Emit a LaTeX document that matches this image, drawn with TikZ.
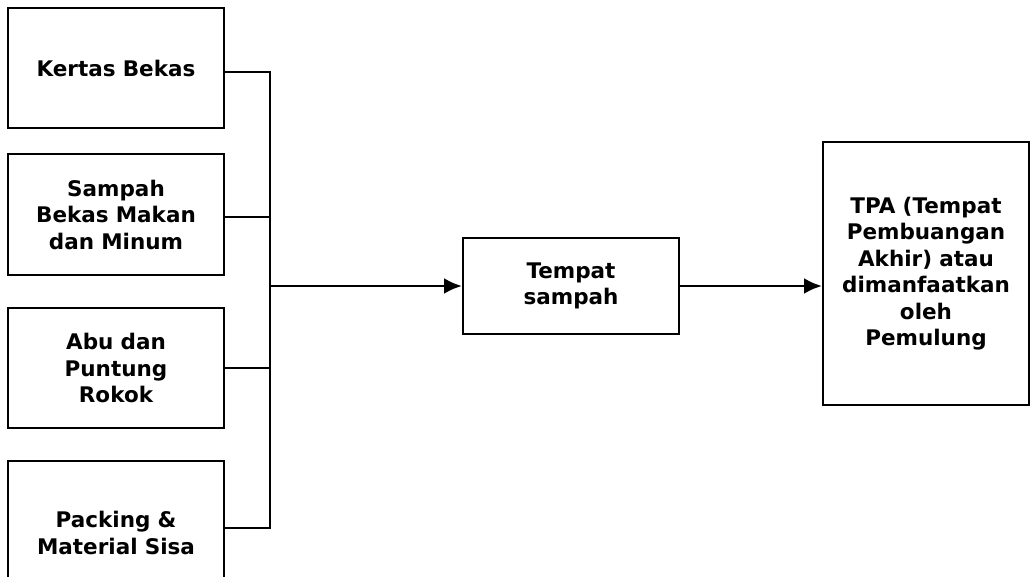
\documentclass[tikz,border=0pt]{standalone}
\usepackage{fontspec}
\setmainfont{DejaVu Sans}
\usetikzlibrary{arrows.meta}

\begin{document}
\begin{tikzpicture}[x=1pt, y=-1pt, block/.style={rectangle, draw, line width=2pt, text width=200pt, align=center, inner sep=0pt, font=\bfseries\fontsize{21.5}{26.5}\selectfont}, link/.style={line width=1.8pt}, flow/.style={line width=2.8pt, -{Latex[length=18pt, width=16pt]}}]
   \useasboundingbox (0,0) rectangle (1030,577);
   \node[block, minimum width=216pt, minimum height=120pt] (kertas) at (116,68) {Kertas Bekas};
   \node[block, minimum width=216pt, minimum height=121pt] (makan) at (116,214.5) {Sampah\\Bekas Makan\\dan Minum};
   \node[block, minimum width=216pt, minimum height=120pt] (rokok) at (116,368) {Abu dan\\Puntung\\Rokok};
   \node[block, minimum width=216pt, minimum height=144pt] (packing) at (116,533) {Packing \&\\Material Sisa};
   \node[block, minimum width=216pt, minimum height=96pt] (tempat) at (571,286) {Tempat\\sampah};
   \node[block, text width=204pt, minimum width=206pt, minimum height=263pt] (tpa) at (926,273.5) {TPA (Tempat\\Pembuangan\\Akhir) atau\\dimanfaatkan\\oleh\\Pemulung};
   \node[coordinate] (top) at (270,72) {};
   \node[coordinate] (bottom) at (270,528) {};
   \node[coordinate] (merge) at (270,286) {};
   \node[coordinate] (joinmakan) at (270,217) {};
   \draw[line width=2.8pt] (kertas.east |- top) -- (top) -- (bottom) -- (packing.east |- bottom);
   \draw[link] (makan.east |- joinmakan) -- (joinmakan);
   \draw[link] (rokok) -- (rokok -| top);
   \draw[flow] (merge) -- (tempat);
   \draw[flow] (tempat) -- (tempat -| tpa.west);

 \end{tikzpicture}
\end{document}
